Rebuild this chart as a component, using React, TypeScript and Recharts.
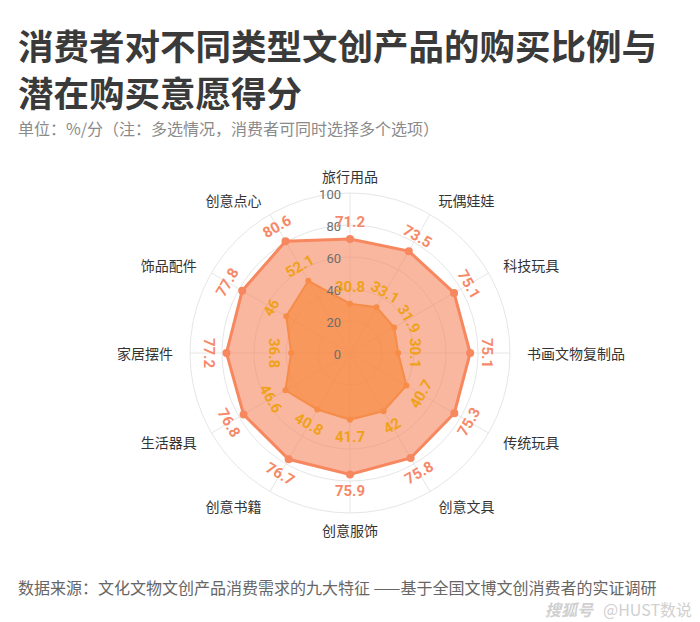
import React from 'react'
import { RadarChart, Radar, PolarGrid, PolarAngleAxis, PolarRadiusAxis } from 'recharts'

const categories = ['旅行用品', '玩偶娃娃', '科技玩具', '书画文物复制品', '传统玩具', '创意文具', '创意服饰', '创意书籍', '生活器具', '家居摆件', '饰品配件', '创意点心']
const scoreValues = [71.2, 73.5, 75.1, 75.1, 75.3, 75.8, 75.9, 76.7, 76.8, 77.2, 77.8, 80.6]
const ratioValues = [30.8, 33.1, 31.9, 30.1, 40.7, 42, 41.7, 40.8, 46.6, 36.8, 46, 52.1]
const radiusTicks = [0, 20, 40, 60, 80, 100]

const data = categories.map((name, i) => ({ name, score: scoreValues[i], ratio: ratioValues[i] }))

const CX = 350
const CY = 353
const R = 160
const CJK = '"Noto Sans CJK SC", "Noto Sans", sans-serif'

function makeDot(values: number[], dotColor: string, labelColor: string, r: number) {
    return (props: any) => {
        const { cx, cy, index } = props
        const dx = cx - CX
        const dy = cy - CY
        const dist = Math.sqrt(dx * dx + dy * dy) || 1
        const lx = CX + (dx / dist) * (dist + 17)
        const ly = CY + (dy / dist) * (dist + 17)
        // clockwise angle from the top
        const phi = ((Math.atan2(dx, -dy) * 180) / Math.PI + 360) % 360
        let rot = phi
        if (phi > 90.5 && phi <= 270.5) rot = phi - 180
        else if (phi > 270.5) rot = phi - 360
        return (
            <g key={`dot-${index}`}>
                <circle cx={cx} cy={cy} r={r} fill={dotColor} />
                <text
                    x={lx}
                    y={ly}
                    textAnchor="middle"
                    dominantBaseline="central"
                    transform={`rotate(${rot} ${lx} ${ly})`}
                    fill={labelColor}
                    fontSize={15}
                    fontWeight={700}
                    fontFamily="Roboto, sans-serif"
                >
                    {values[index]}
                </text>
            </g>
        )
    }
}

const AngleTick = (props: any) => {
    const { x, y, payload } = props
    const dx = x - CX
    const dy = y - CY
    const len = Math.sqrt(dx * dx + dy * dy) || 1
    const px = CX + (dx / len) * 177
    const py = CY + (dy / len) * 177
    const c = dx / len
    const anchor = c > 0.01 ? 'start' : c < -0.01 ? 'end' : 'middle'
    return (
        <text x={px} y={py} textAnchor={anchor} dominantBaseline="central" fill="#333" fontSize={14} fontFamily={CJK}>
            {payload.value}
        </text>
    )
}

const RadiusTick = (props: any) => {
    const { y, payload } = props
    return (
        <text x={CX - 9} y={y + 1} textAnchor="end" dominantBaseline="central" fill="#6e6e6e" fontSize={13} fontFamily="Roboto, sans-serif">
            {payload.value}
        </text>
    )
}

export default function App() {
    return (
        <div style={{ position: 'absolute', left: 0, top: 0, width: 700, height: 622, background: '#fff', overflow: 'hidden' }}>
            <div style={{ position: 'absolute', left: 18, top: 21, fontFamily: CJK, fontSize: 35.5, fontWeight: 700, lineHeight: '47px', color: '#3a3a3a', whiteSpace: 'nowrap' }}>
                消费者对不同类型文创产品的购买比例与<br />潜在购买意愿得分
            </div>
            <div style={{ position: 'absolute', left: 18, top: 117, fontFamily: CJK, fontSize: 16, lineHeight: '22px', color: '#8a8a8a', whiteSpace: 'nowrap' }}>
                单位：%/分（注：多选情况，消费者可同时选择多个选项）
            </div>
            <div style={{ position: 'absolute', left: 0, top: 0 }}>
                <RadarChart width={700} height={622} data={data} cx={CX} cy={CY} outerRadius={R} margin={{ top: 0, right: 0, bottom: 0, left: 0 }}>
                    <PolarGrid gridType="circle" stroke="#e6e6e6" />
                    <PolarAngleAxis dataKey="name" tick={<AngleTick />} tickLine={false} axisLine={false} />
                    <PolarRadiusAxis angle={90} domain={[0, 100]} ticks={radiusTicks} tick={<RadiusTick />} axisLine={false} tickLine={false} />
                    <Radar
                        name="潜在购买意愿得分"
                        dataKey="score"
                        stroke="#f7875f"
                        strokeWidth={3}
                        fill="#f7875f"
                        fillOpacity={0.6}
                        dot={makeDot(scoreValues, '#f7875f', '#f5896a', 4)}
                        isAnimationActive={false}
                    />
                    <Radar
                        name="购买比例"
                        dataKey="ratio"
                        stroke="#f68c48"
                        strokeWidth={2}
                        fill="#f68a40"
                        fillOpacity={0.7}
                        dot={makeDot(ratioValues, '#f68c48', '#efa11b', 3)}
                        isAnimationActive={false}
                    />
                </RadarChart>
            </div>
            <div style={{ position: 'absolute', left: 18, top: 576, fontFamily: CJK, fontSize: 16, lineHeight: '22px', color: '#666', whiteSpace: 'nowrap' }}>
                数据来源：文化文物文创产品消费需求的九大特征 ——基于全国文博文创消费者的实证调研
            </div>
            <div style={{ position: 'absolute', right: 8, top: 599, fontFamily: CJK, fontSize: 16, lineHeight: '20px', color: '#d0d0d0', whiteSpace: 'nowrap' }}>
                <span style={{ fontStyle: 'italic', fontWeight: 700, marginRight: 10 }}>搜狐号</span>@HUST数说
            </div>
        </div>
    )
}
